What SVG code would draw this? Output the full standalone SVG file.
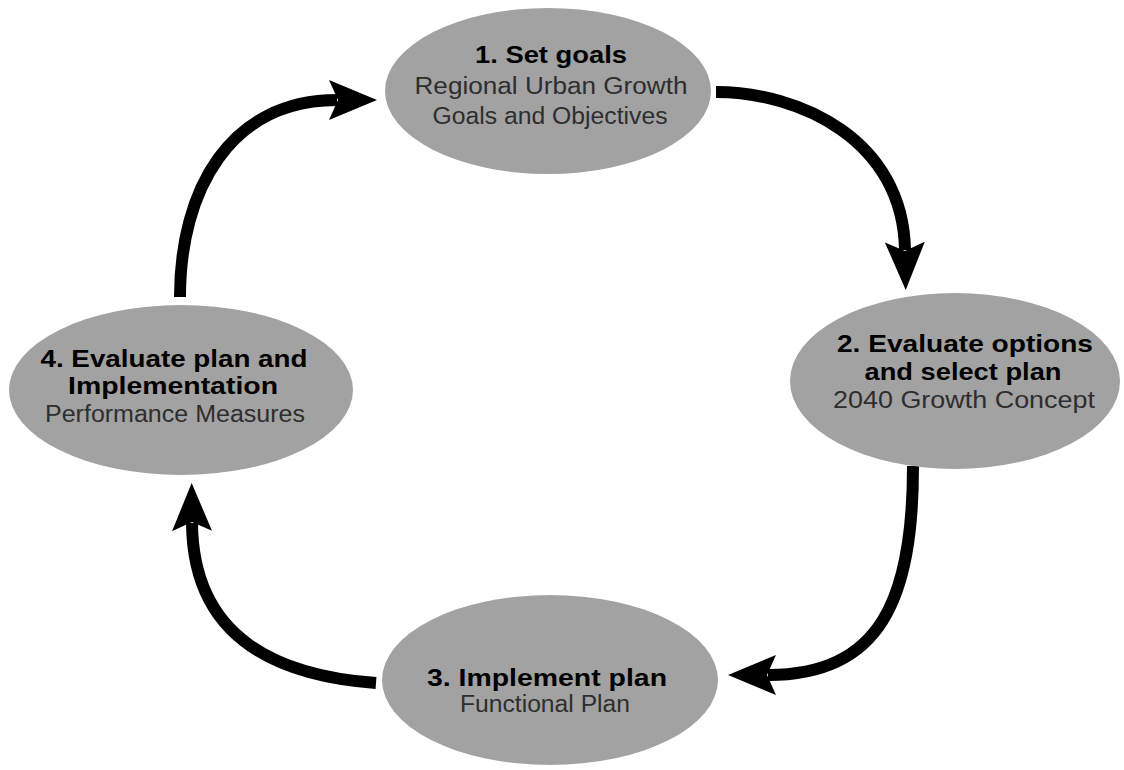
<svg xmlns="http://www.w3.org/2000/svg" width="1124" height="770" viewBox="0 0 1124 770">
  <style>
    .node { fill: #a2a2a2; }
    .h { font-family: "Liberation Sans", Arial, sans-serif; font-weight: 700; font-size: 23px; fill: #000; text-anchor: middle; }
    .s { font-family: "Liberation Sans", Arial, sans-serif; font-weight: 400; font-size: 23px; fill: #2e2e2e; text-anchor: middle; }
    .conn { fill: none; stroke: #000; stroke-width: 12; stroke-linecap: butt; marker-end: url(#head); }
  </style>
  <defs>
    <marker id="head" markerUnits="userSpaceOnUse" markerWidth="48" markerHeight="40" viewBox="0 0 48 40" refX="8" refY="20" orient="auto">
      <path d="M0,0 L48,20 L0,40 L9,20 Z" fill="#000"/>
    </marker>
  </defs>
  <rect width="1124" height="770" fill="#fff"/>

  <g id="connectors">
    <path class="conn" d="M180,297 C180,190 230,100 337,100"/>
    <path class="conn" d="M716,92 C800,92 903,140 905,250"/>
    <path class="conn" d="M913,466 C913,600 880,675 768,675"/>
    <path class="conn" d="M376,683 C280,676 193,640 192,523"/>
  </g>

  <g id="node1">
    <ellipse class="node" cx="548" cy="91" rx="163" ry="83"/>
    <text class="h" x="551" y="63" textLength="152" lengthAdjust="spacingAndGlyphs">1. Set goals</text>
    <text class="s" x="551" y="94" textLength="273" lengthAdjust="spacingAndGlyphs">Regional Urban Growth</text>
    <text class="s" x="550" y="124" textLength="235" lengthAdjust="spacingAndGlyphs">Goals and Objectives</text>
  </g>

  <g id="node2">
    <ellipse class="node" cx="955" cy="381" rx="165" ry="88"/>
    <text class="h" x="965" y="352" textLength="256" lengthAdjust="spacingAndGlyphs">2. Evaluate options</text>
    <text class="h" x="963" y="380" textLength="197" lengthAdjust="spacingAndGlyphs">and select plan</text>
    <text class="s" x="964" y="408" textLength="262" lengthAdjust="spacingAndGlyphs">2040 Growth Concept</text>
  </g>

  <g id="node3">
    <ellipse class="node" cx="550" cy="680" rx="168" ry="85"/>
    <text class="h" x="547" y="686" textLength="240" lengthAdjust="spacingAndGlyphs">3. Implement plan</text>
    <text class="s" x="545" y="712" textLength="170" lengthAdjust="spacingAndGlyphs">Functional Plan</text>
  </g>

  <g id="node4">
    <ellipse class="node" cx="181" cy="390" rx="172" ry="85"/>
    <text class="h" x="174" y="367" textLength="267" lengthAdjust="spacingAndGlyphs">4. Evaluate plan and</text>
    <text class="h" x="173" y="394" textLength="210" lengthAdjust="spacingAndGlyphs">Implementation</text>
    <text class="s" x="175" y="422" textLength="260" lengthAdjust="spacingAndGlyphs">Performance Measures</text>
  </g>
</svg>
